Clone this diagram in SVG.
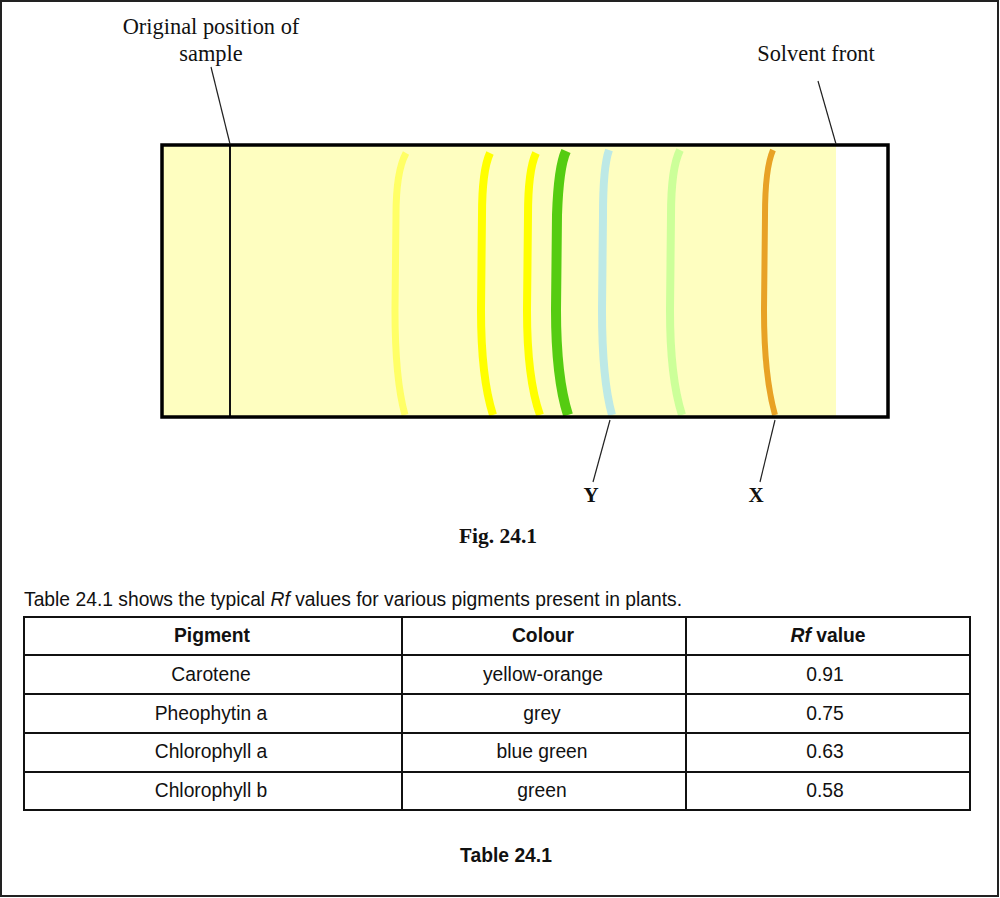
<svg xmlns="http://www.w3.org/2000/svg" width="1000" height="898" viewBox="0 0 1000 898">
<style>
.serif{font-family:"Liberation Serif","Times New Roman",serif;fill:#111}
.sans{font-family:"Liberation Sans",Arial,sans-serif;fill:#111;font-size:19.3px}
.b{font-weight:bold}
.band{fill:none;stroke-linecap:butt}
.lead{stroke:#222;stroke-width:1.2;fill:none}
.grid{stroke:#111;stroke-width:2;fill:none}
</style>
<rect x="0" y="0" width="1000" height="898" fill="#fff"/>
<rect x="1" y="1" width="997" height="895" fill="none" stroke="#222" stroke-width="2"/>

<g id="strip">
<rect x="162" y="145" width="674" height="272" fill="#FEFEC0"/>
<line x1="230" y1="145" x2="230" y2="417" stroke="#111" stroke-width="2"/>
</g>

<g id="bands">
<path class="band" stroke="#FFFF66" stroke-width="7" d="M406,153 C399,166 396,185 396,215 L395,310 C395,355 398,390 405,415"/>
<path class="band" stroke="#FFFF00" stroke-width="8" d="M490,153 C484,166 482,185 482,215 L481,310 C481,355 485,390 493,415"/>
<path class="band" stroke="#FFFF00" stroke-width="8" d="M536,153 C530,166 528,185 528,215 L527,310 C527,355 531,390 540,415"/>
<path class="band" stroke="#55CC11" stroke-width="10" d="M566,151 C560,164 558,185 557,215 L556,310 C556,355 560,390 568,415"/>
<path class="band" stroke="#BDE9E6" stroke-width="8" d="M609,150 C604,164 603,185 603,215 L602,310 C602,355 605,390 612,415"/>
<path class="band" stroke="#CCFF99" stroke-width="8" d="M680,150 C673,164 671,185 671,215 L670,310 C670,355 674,390 682,415"/>
<path class="band" stroke="#E8A225" stroke-width="6" d="M773,150 C767,164 765,185 765,215 L764,310 C764,355 768,390 775,415"/>
</g>

<g id="frame">
<rect x="162" y="145" width="726" height="272" fill="none" stroke="#000" stroke-width="3.5"/>
</g>

<g id="connectors">
<line class="lead" x1="211" y1="67" x2="230" y2="144"/>
<line class="lead" x1="818" y1="81" x2="836" y2="144"/>
<line class="lead" x1="610" y1="420" x2="593" y2="482"/>
<line class="lead" x1="775" y1="420" x2="760" y2="482"/>
</g>

<g id="label-original">
<text class="serif" x="211" y="34" font-size="22.4" text-anchor="middle">Original position of</text>
<text class="serif" x="211" y="61" font-size="22.4" text-anchor="middle">sample</text>
</g>
<g id="label-solvent">
<text class="serif" x="816" y="61" font-size="22.4" text-anchor="middle">Solvent front</text>
</g>
<g id="label-Y"><text class="serif b" x="591" y="502" font-size="21" text-anchor="middle">Y</text></g>
<g id="label-X"><text class="serif b" x="756" y="502" font-size="21" text-anchor="middle">X</text></g>
<g id="fig-caption"><text class="serif b" x="498" y="543" font-size="21.5" text-anchor="middle">Fig. 24.1</text></g>

<g id="table-intro">
<text class="sans" x="24" y="606">Table 24.1 shows the typical <tspan font-style="italic">Rf</tspan> values for various pigments present in plants.</text>
</g>

<g id="table">
<rect x="24" y="617" width="946" height="193" class="grid"/>
<line class="grid" x1="24" y1="655" x2="970" y2="655"/>
<line class="grid" x1="24" y1="694" x2="970" y2="694"/>
<line class="grid" x1="24" y1="733" x2="970" y2="733"/>
<line class="grid" x1="24" y1="772" x2="970" y2="772"/>
<line class="grid" x1="402" y1="617" x2="402" y2="810"/>
<line class="grid" x1="686" y1="617" x2="686" y2="810"/>
<g text-anchor="middle">
<text class="sans b" x="212" y="642">Pigment</text>
<text class="sans b" x="543" y="642">Colour</text>
<text class="sans b" x="828" y="642"><tspan font-style="italic">Rf</tspan> value</text>
<text class="sans" x="211" y="681">Carotene</text>
<text class="sans" x="543" y="681">yellow-orange</text>
<text class="sans" x="825" y="681">0.91</text>
<text class="sans" x="211" y="720">Pheophytin a</text>
<text class="sans" x="542" y="720">grey</text>
<text class="sans" x="825" y="720">0.75</text>
<text class="sans" x="211" y="758">Chlorophyll a</text>
<text class="sans" x="542" y="758">blue green</text>
<text class="sans" x="825" y="758">0.63</text>
<text class="sans" x="211" y="797">Chlorophyll b</text>
<text class="sans" x="542" y="797">green</text>
<text class="sans" x="825" y="797">0.58</text>
</g>
</g>

<g id="table-caption"><text class="sans b" x="506" y="862" text-anchor="middle">Table 24.1</text></g>
</svg>
